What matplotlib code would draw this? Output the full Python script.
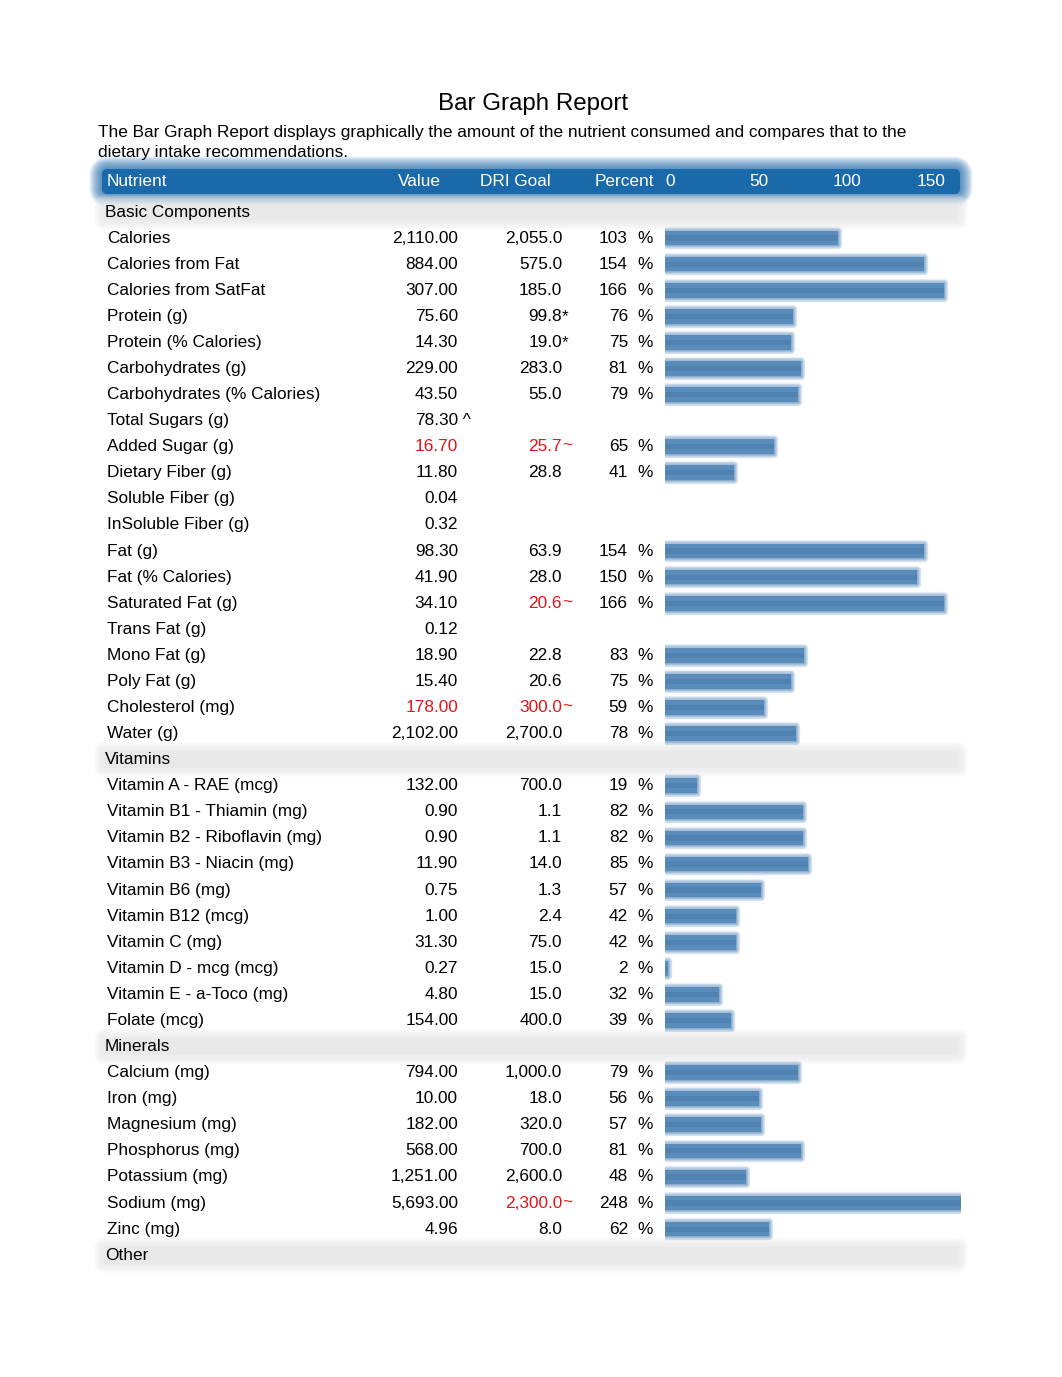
import matplotlib
matplotlib.use("Agg")
import matplotlib.pyplot as plt
import matplotlib.patheffects as pe
from matplotlib.patches import FancyBboxPatch
from matplotlib.transforms import blended_transform_factory

plt.rcParams['font.family'] = ['Liberation Sans', 'DejaVu Sans']

# ---- data ----
names = ['Basic Components',
         'Calories', 'Calories from Fat', 'Calories from SatFat', 'Protein (g)',
         'Protein (% Calories)', 'Carbohydrates (g)', 'Carbohydrates (% Calories)',
         'Total Sugars (g)', 'Added Sugar (g)', 'Dietary Fiber (g)', 'Soluble Fiber (g)',
         'InSoluble Fiber (g)', 'Fat (g)', 'Fat (% Calories)', 'Saturated Fat (g)',
         'Trans Fat (g)', 'Mono Fat (g)', 'Poly Fat (g)', 'Cholesterol (mg)', 'Water (g)',
         'Vitamins',
         'Vitamin A - RAE (mcg)', 'Vitamin B1 - Thiamin (mg)', 'Vitamin B2 - Riboflavin (mg)',
         'Vitamin B3 - Niacin (mg)', 'Vitamin B6 (mg)', 'Vitamin B12 (mcg)', 'Vitamin C (mg)',
         'Vitamin D - mcg (mcg)', 'Vitamin E - a-Toco (mg)', 'Folate (mcg)',
         'Minerals',
         'Calcium (mg)', 'Iron (mg)', 'Magnesium (mg)', 'Phosphorus (mg)', 'Potassium (mg)',
         'Sodium (mg)', 'Zinc (mg)',
         'Other']
sections = ['Basic Components', 'Vitamins', 'Minerals', 'Other']

values = [None,
          2110.00, 884.00, 307.00, 75.60, 14.30, 229.00, 43.50, 78.30, 16.70, 11.80, 0.04,
          0.32, 98.30, 41.90, 34.10, 0.12, 18.90, 15.40, 178.00, 2102.00,
          None,
          132.00, 0.90, 0.90, 11.90, 0.75, 1.00, 31.30, 0.27, 4.80, 154.00,
          None,
          794.00, 10.00, 182.00, 568.00, 1251.00, 5693.00, 4.96,
          None]
value_marks = {'Total Sugars (g)': '^'}

dri = [None,
       2055.0, 575.0, 185.0, 99.8, 19.0, 283.0, 55.0, None, 25.7, 28.8, None,
       None, 63.9, 28.0, 20.6, None, 22.8, 20.6, 300.0, 2700.0,
       None,
       700.0, 1.1, 1.1, 14.0, 1.3, 2.4, 75.0, 15.0, 15.0, 400.0,
       None,
       1000.0, 18.0, 320.0, 700.0, 2600.0, 2300.0, 8.0,
       None]
dri_marks = {'Protein (g)': '*', 'Protein (% Calories)': '*', 'Added Sugar (g)': '~',
             'Saturated Fat (g)': '~', 'Cholesterol (mg)': '~', 'Sodium (mg)': '~'}

percent = [None,
           103, 154, 166, 76, 75, 81, 79, None, 65, 41, None,
           None, 154, 150, 166, None, 83, 75, 59, 78,
           None,
           19, 82, 82, 85, 57, 42, 42, 2, 32, 39,
           None,
           79, 56, 57, 81, 48, 248, 62,
           None]

red_values = ['Added Sugar (g)', 'Cholesterol (mg)']
red_dri = ['Added Sugar (g)', 'Saturated Fat (g)', 'Cholesterol (mg)', 'Sodium (mg)']

scale_ticks = [0, 50, 100, 150]

# ---- layout ----
W, H = 1062, 1377
fig = plt.figure(figsize=(W / 100, H / 100), dpi=100)
fig.patch.set_facecolor('white')

deco = fig.add_axes([0, 0, 1, 1])
deco.set_xlim(0, W)
deco.set_ylim(H, 0)
deco.axis('off')

fs = 12.4
red = '#e3141b'
blue_head = '#1a69aa'
bar_col = '#5a8cbb'

row0, step = 212.0, 26.08
n = len(names)
top_px = row0 - step / 2
bot_px = row0 + (n - 1) * step + step / 2
x0_px, px_per_pct, xmax = 665.0, 1.68, 176

bx = fig.add_axes([x0_px / W, 1 - bot_px / H, xmax * px_per_pct / W, (bot_px - top_px) / H])
bx.set_xlim(0, xmax)
bx.set_ylim(n - 0.5, -0.5)
bx.axis('off')
bx.patch.set_alpha(0)


def blur(color, width, layers=8, alpha=0.09):
    # soft edge: stack of round strokes, widest first
    eff = []
    for k in range(layers):
        w = width * (1 - k / layers)
        eff.append(pe.Stroke(linewidth=w, foreground=color, alpha=alpha,
                             joinstyle='round', capstyle='round'))
    return eff + [pe.Normal()]


# title and intro
fig.text(533 / W, 1 - 104 / H, 'Bar Graph Report', ha='center', va='center', fontsize=17.4)
fig.text(98 / W, 1 - 133 / H,
         'The Bar Graph Report displays graphically the amount of the nutrient consumed and compares that to the',
         ha='left', va='center', fontsize=fs)
fig.text(98 / W, 1 - 153 / H, 'dietary intake recommendations.', ha='left', va='center', fontsize=fs)

# header band
head = FancyBboxPatch((102, 169), 858, 25, boxstyle='round,pad=0,rounding_size=6',
                      facecolor=blue_head, edgecolor='none', linewidth=0)
head.set_path_effects(blur(blue_head, 18, layers=12, alpha=0.09))
deco.add_patch(head)
hy = 1 - 182 / H
fig.text(107 / W, hy, 'Nutrient', color='white', ha='left', va='center', fontsize=fs)
fig.text(441 / W, hy, 'Value', color='white', ha='right', va='center', fontsize=fs)
fig.text(480 / W, hy, 'DRI Goal', color='white', ha='left', va='center', fontsize=fs)
fig.text(595 / W, hy, 'Percent', color='white', ha='left', va='center', fontsize=fs)
tick_tr = blended_transform_factory(bx.transData, fig.transFigure)
for t in scale_ticks:
    bx.text(t, hy, str(t), transform=tick_tr, color='white', ha='left', va='center',
            fontsize=fs, clip_on=False)

# section bands
band_tr = blended_transform_factory(deco.transData, bx.transData)
for i, name in enumerate(names):
    if name in sections:
        band = FancyBboxPatch((104, i - 0.3), 854, 0.6, boxstyle='round,pad=0',
                              facecolor='#e9e9e9', edgecolor='none', linewidth=0,
                              transform=band_tr)
        band.set_path_effects(blur('#e9e9e9', 14, layers=8, alpha=0.16))
        deco.add_patch(band)

# table text
tr = blended_transform_factory(fig.transFigure, bx.transData)


def col(px):
    return px / W


for i, name in enumerate(names):
    if name in sections:
        bx.text(col(105), i, name, transform=tr, ha='left', va='center', fontsize=fs, clip_on=False)
        continue
    bx.text(col(107), i, name, transform=tr, ha='left', va='center', fontsize=fs, clip_on=False)
    v = values[i]
    if v is not None:
        c = red if name in red_values else 'black'
        bx.text(col(458), i, f'{v:,.2f}', transform=tr, ha='right', va='center',
                fontsize=fs, color=c, clip_on=False)
        if name in value_marks:
            bx.text(col(458), i, ' ' + value_marks[name], transform=tr, ha='left',
                    va='center', fontsize=fs, color=c, clip_on=False)
    d = dri[i]
    if d is not None:
        c = red if name in red_dri else 'black'
        bx.text(col(562), i, f'{d:,.1f}', transform=tr, ha='right', va='center',
                fontsize=fs, color=c, clip_on=False)
        if name in dri_marks:
            bx.text(col(562), i, dri_marks[name], transform=tr, ha='left',
                    va='center', fontsize=fs, color=c, clip_on=False)
    p = percent[i]
    if p is not None:
        bx.text(col(628), i, f'{p}', transform=tr, ha='right', va='center',
                fontsize=fs, clip_on=False)
        bx.text(col(637), i, '%', transform=tr, ha='left', va='center',
                fontsize=fs, clip_on=False)

# bars
rows = [i for i, p in enumerate(percent) if p is not None]
pcts = [percent[i] for i in rows]
bars = bx.barh(rows, pcts, height=0.56, left=0, color=bar_col, linewidth=0)
for b in bars:
    b.set_path_effects(blur(bar_col, 6, layers=6, alpha=0.14))
inner = bx.barh(rows, pcts, height=0.2, left=0, color='#4476a6', linewidth=0, alpha=0.4)

fig.savefig('out.png', dpi=100)
